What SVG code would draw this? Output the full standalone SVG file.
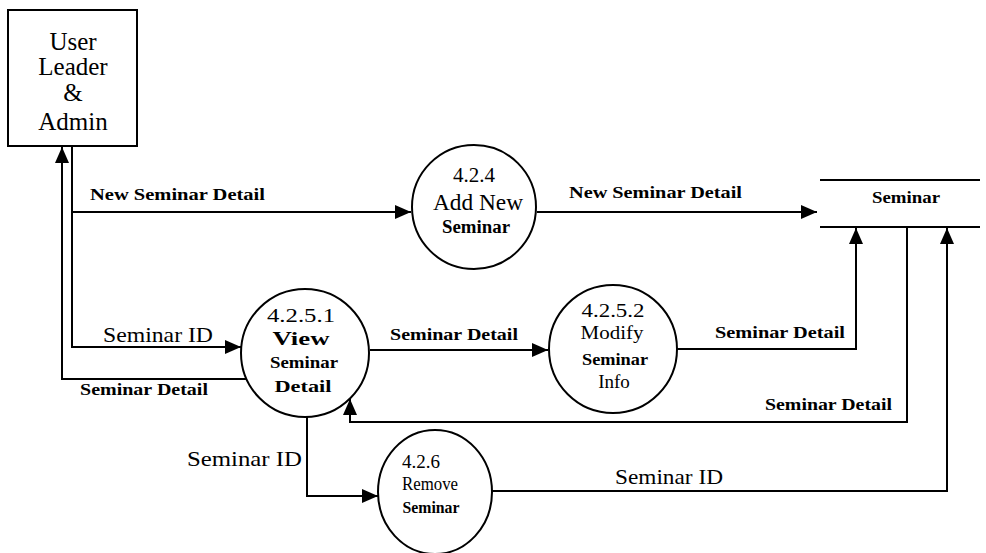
<svg xmlns="http://www.w3.org/2000/svg" width="986" height="553" viewBox="0 0 986 553" font-family="'Liberation Serif', 'DejaVu Serif', serif">
<defs>
<marker id="ah" markerUnits="userSpaceOnUse" markerWidth="16" markerHeight="14" viewBox="0 0 16 14" refX="16" refY="7" orient="auto">
<path d="M0,0 L16,7 L0,14 Z" fill="#000"/>
</marker>
</defs>
<style>
.shape{fill:#fff;stroke:#000;stroke-width:2}
.conn{fill:none;stroke:#000;stroke-width:2}
text{font-family:'Liberation Serif','DejaVu Serif',serif;fill:#000}
.t{text-anchor:middle}
.lb{font-weight:bold;font-size:17px}
.li{font-size:21px}
</style>
<rect width="986" height="553" fill="#fff"/>

<g id="connectors">
<path class="conn" d="M72,146 V347 H241" marker-end="url(#ah)"/>
<path class="conn" d="M72,212 H411" marker-end="url(#ah)"/>
<path class="conn" d="M255,379 H62 V147" marker-end="url(#ah)"/>
<path class="conn" d="M537,212 H817" marker-end="url(#ah)"/>
<path class="conn" d="M370,350 H548" marker-end="url(#ah)"/>
<path class="conn" d="M677,349 H856 V228" marker-end="url(#ah)"/>
<path class="conn" d="M907,228 V422 H350 V399" marker-end="url(#ah)"/>
<path class="conn" d="M307,417 V496 H378" marker-end="url(#ah)"/>
<path class="conn" d="M492,491 H947 V228" marker-end="url(#ah)"/>
<text class="lb" x="90" y="200" textLength="175" lengthAdjust="spacingAndGlyphs">New Seminar Detail</text>
<text class="lb" x="569" y="198" textLength="173" lengthAdjust="spacingAndGlyphs">New Seminar Detail</text>
<text class="li" x="103" y="342" textLength="110" lengthAdjust="spacingAndGlyphs">Seminar ID</text>
<text class="lb" x="80" y="395" textLength="128" lengthAdjust="spacingAndGlyphs">Seminar Detail</text>
<text class="lb" x="390" y="340" textLength="128" lengthAdjust="spacingAndGlyphs">Seminar Detail</text>
<text class="lb" x="715" y="338" textLength="130" lengthAdjust="spacingAndGlyphs">Seminar Detail</text>
<text class="lb" x="765" y="410" textLength="127" lengthAdjust="spacingAndGlyphs">Seminar Detail</text>
<text class="li" x="187" y="466" textLength="115" lengthAdjust="spacingAndGlyphs">Seminar ID</text>
<text class="li" x="615" y="484" textLength="108" lengthAdjust="spacingAndGlyphs">Seminar ID</text>
</g>

<g id="user-leader-admin">
<rect class="shape" x="8" y="10" width="129" height="136"/>
<text class="t" x="73" y="50" font-size="25">User</text>
<text class="t" x="73" y="75" font-size="25">Leader</text>
<text class="t" x="73" y="101" font-size="25">&amp;</text>
<text class="t" x="73" y="130" font-size="25">Admin</text>
</g>

<g id="p424">
<circle class="shape" cx="474" cy="207" r="62"/>
<text class="t" x="474" y="182" font-size="21">4.2.4</text>
<text class="t" x="478" y="210" font-size="23" textLength="90" lengthAdjust="spacingAndGlyphs">Add New</text>
<text class="t" x="476" y="233" font-size="18" font-weight="bold" textLength="68" lengthAdjust="spacingAndGlyphs">Seminar</text>
</g>

<g id="store-seminar">
<line class="conn" x1="820" y1="180" x2="980" y2="180"/>
<line class="conn" x1="820" y1="227" x2="980" y2="227"/>
<text class="t" x="906" y="203" font-size="17" font-weight="bold" textLength="68" lengthAdjust="spacingAndGlyphs">Seminar</text>
</g>

<g id="p4251">
<circle class="shape" cx="305" cy="353" r="64"/>
<text class="t" x="301" y="322" font-size="19" textLength="68" lengthAdjust="spacingAndGlyphs">4.2.5.1</text>
<text class="t" x="301" y="345" font-size="18" font-weight="bold" textLength="57" lengthAdjust="spacingAndGlyphs">View</text>
<text class="t" x="304" y="368" font-size="17" font-weight="bold" textLength="68" lengthAdjust="spacingAndGlyphs">Seminar</text>
<text class="t" x="303" y="392" font-size="17" font-weight="bold" textLength="57" lengthAdjust="spacingAndGlyphs">Detail</text>
</g>

<g id="p4252">
<circle class="shape" cx="613" cy="349" r="64"/>
<text class="t" x="613" y="317" font-size="19" textLength="63" lengthAdjust="spacingAndGlyphs">4.2.5.2</text>
<text class="t" x="612" y="339" font-size="19" textLength="63" lengthAdjust="spacingAndGlyphs">Modify</text>
<text class="t" x="615" y="365" font-size="17" font-weight="bold" textLength="66" lengthAdjust="spacingAndGlyphs">Seminar</text>
<text class="t" x="614" y="388" font-size="19">Info</text>
</g>

<g id="p426">
<ellipse class="shape" cx="435" cy="492" rx="57" ry="62"/>
<text class="t" x="421" y="468" font-size="18" textLength="38" lengthAdjust="spacingAndGlyphs">4.2.6</text>
<text class="t" x="430" y="490" font-size="18" textLength="56" lengthAdjust="spacingAndGlyphs">Remove</text>
<text class="t" x="431" y="513" font-size="17" font-weight="bold" textLength="57" lengthAdjust="spacingAndGlyphs">Seminar</text>
</g>
</svg>
